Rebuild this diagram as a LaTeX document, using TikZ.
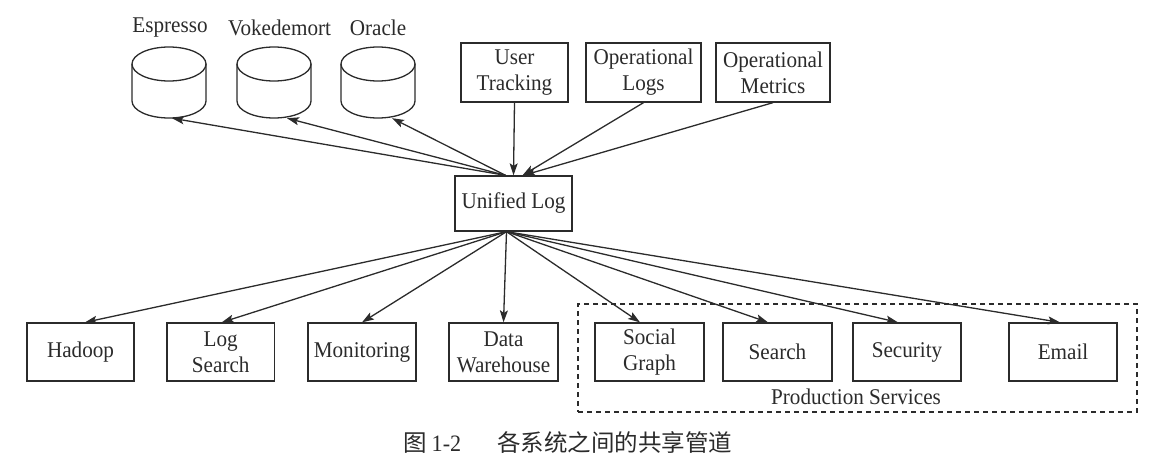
\documentclass[tikz,border=0pt]{standalone}
\usepackage{fontspec}
\setmainfont{Liberation Serif}[FakeStretch=0.94]
\newfontfamily\cjk{Noto Sans CJK SC}
\usetikzlibrary{arrows.meta}
\definecolor{ink}{HTML}{2B2B2B}
\newcommand\dbcyl[2]{%
  \node[inner sep=0pt, minimum width=74pt, minimum height=71pt] (#1) at (#2,82.5) {};
  \draw[cylline] (#2,64) ellipse [x radius=37pt, y radius=17pt];
  \draw[cylline] (#2-37,64) -- (#2-37,101) .. controls (#2-37,110.4) and (#2-20.4,118) .. (#2,118)
     .. controls (#2+20.4,118) and (#2+37,110.4) .. (#2+37,101) -- (#2+37,64);
}
\begin{document}
\begin{tikzpicture}[x=1pt,y=-1pt,
  every node/.style={font=\fontsize{22.5}{26}\selectfont, text=ink},
  box/.style={draw=ink, line width=1.3pt, inner sep=0pt, align=center},
  cylline/.style={draw=ink, line width=1.3pt},
  arr/.style={draw=ink, line width=1.3pt, -{Stealth[length=12pt,width=8pt,inset=2.5pt]}},
  prodbox/.style={draw=ink, line width=1.3pt, dash pattern=on 5pt off 4pt, inner sep=0pt}]
\useasboundingbox (0,0) rectangle (1161,460);

% databases
\dbcyl{esp}{169}
\dbcyl{voke}{274}
\dbcyl{ora}{378}
\node (esplbl) at (170,28) {Espresso};
\node (vokelbl) at (279.5,28) {Vokedemort};
\node (oralbl) at (378,28) {Oracle};

% top sources
\node[box, minimum width=107pt, minimum height=59pt] (ut) at (514.5,72.5) {User\\Tracking};
\node[box, minimum width=115pt, minimum height=59pt] (ol) at (643.5,72.5) {Operational\\Logs};
\node[box, minimum width=114pt, minimum height=59pt] (om) at (773,72.5) {Operational\\Metrics};

% hub
\node[box, minimum width=117pt, minimum height=55pt] (ul) at (513.5,203.5) {Unified Log};

% bottom consumers
\node[box, minimum width=107pt, minimum height=58pt] (had) at (80.5,352) {Hadoop};
\node[box, minimum width=107.5pt, minimum height=58pt] (ls) at (220.75,352) {Log\\Search};
\node[box, minimum width=108pt, minimum height=58pt] (mon) at (362,352) {Monitoring};
\node[box, minimum width=109pt, minimum height=58pt] (dw) at (503.5,352) {Data\\Warehouse};
\node[box, minimum width=109pt, minimum height=58pt] (sg) at (649.5,352) {Social\\Graph};
\node[box, minimum width=109pt, minimum height=58pt] (srch) at (777.5,352) {Search};
\node[box, minimum width=108pt, minimum height=58pt] (sec) at (907,352) {Security};
\node[box, minimum width=108pt, minimum height=58pt] (em) at (1063,352) {Email};

% production services group
\node[prodbox, minimum width=559pt, minimum height=108pt] (prod) at (857.5,358) {};
\node (prodlbl) at (856,397) {Production Services};

% arrows: hub to databases
\draw[arr] ([xshift=-8pt]ul.north) -- ([xshift=3pt]esp.south);
\draw[arr] ([xshift=-8pt]ul.north) -- ([xshift=13pt]voke.south);
\draw[arr] ([xshift=-8pt]ul.north) -- ([xshift=14pt]ora.south);

% arrows: sources to hub
\draw[arr] (ut.south) -- (ul.north);
\draw[arr] (ol.south) -- ([xshift=9pt]ul.north);
\draw[arr] (om.south) -- ([xshift=10pt]ul.north);

% arrows: hub to consumers
\draw[arr] ([xshift=-7pt]ul.south) -- ([xshift=4.5pt]had.north);
\draw[arr] ([xshift=-7pt]ul.south) -- ([xshift=1pt]ls.north);
\draw[arr] ([xshift=-7pt]ul.south) -- (mon.north);
\draw[arr] ([xshift=-7pt]ul.south) -- (dw.north);
\draw[arr] ([xshift=-7pt]ul.south) -- ([xshift=-9.5pt]sg.north);
\draw[arr] ([xshift=-7pt]ul.south) -- ([xshift=-9.5pt]srch.north);
\draw[arr] ([xshift=-7pt]ul.south) -- ([xshift=-9pt]sec.north);
\draw[arr] ([xshift=-7pt]ul.south) -- ([xshift=-3pt]em.north);

% caption
\node[anchor=west, inner sep=0pt, font=\fontsize{23.5}{26}\selectfont] (cap) at (403,443)
  {{\cjk 图}\hspace{5pt}1-2\hspace{36pt}{\cjk 各系统之间的共享管道}};
\end{tikzpicture}
\end{document}
